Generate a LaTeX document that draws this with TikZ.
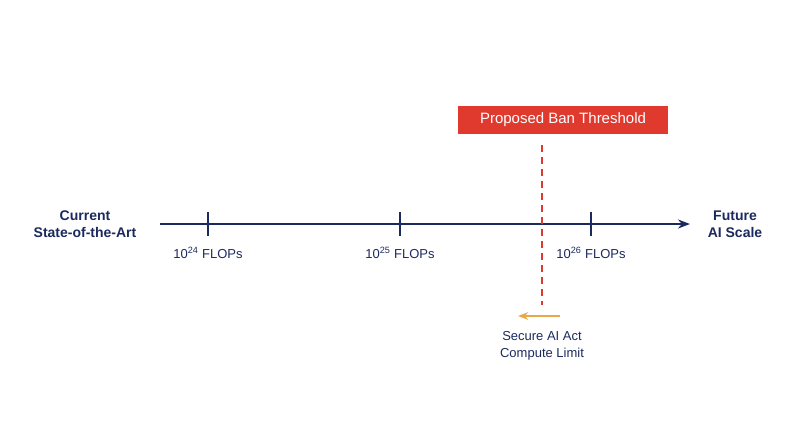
\documentclass[tikz,border=0pt]{standalone}
\usepackage{fontspec}
\setmainfont{Liberation Sans}
\usetikzlibrary{positioning, arrows.meta}
\definecolor{navy}{HTML}{1B2A5E}
\definecolor{banred}{HTML}{E03A2F}
\definecolor{limitorange}{HTML}{E8A84A}
\tikzset{>=Stealth}
\tikzstyle{tick}=[draw=navy, line width=1.6pt]
\tikzstyle{flops}=[text=navy, font=\fontsize{13}{15}\selectfont]
\tikzstyle{endlbl}=[text=navy, font=\fontsize{14}{17}\selectfont\bfseries, align=center]
\begin{document}
\begin{tikzpicture}[x=1pt, y=-1pt]
\useasboundingbox (0,0) rectangle (800,447);
% the axis
\coordinate (start) at (160,224);
\coordinate (stop) at (690,224);
\draw[navy, line width=2pt, ->] (start) -- (stop);
\node[endlbl] (current) at (85,224) {Current\\State-of-the-Art};
\node[endlbl] (future) at (735,224) {Future\\AI Scale};
% the ticks
\foreach \x/\e [count=\i] in {208/24, 400/25, 591/26} {
  \draw[tick] (\x,212) -- (\x,236);
  \node[flops] (t\i) at (\x,253) {10\textsuperscript{\e} FLOPs};
}
% the threshold
\node[fill=banred, text=white, font=\fontsize{15}{18}\selectfont, minimum width=210pt, minimum height=28pt, inner sep=0pt] (ban) at (563,120) {Proposed Ban Threshold};
\coordinate (dtop) at (542,145);
\coordinate (dbot) at (542,305);
\draw[banred, line width=2pt, dash pattern=on 7pt off 5pt] (dtop) -- (dbot);
\coordinate (afrom) at (560,316);
\coordinate (ato) at (518,316);
\draw[limitorange, line width=1.6pt, ->] (afrom) -- (ato);
\node[flops, align=center, font=\fontsize{13}{17}\selectfont] (limit) at (542,346) {Secure AI Act\\Compute Limit};
\end{tikzpicture}
\end{document}
